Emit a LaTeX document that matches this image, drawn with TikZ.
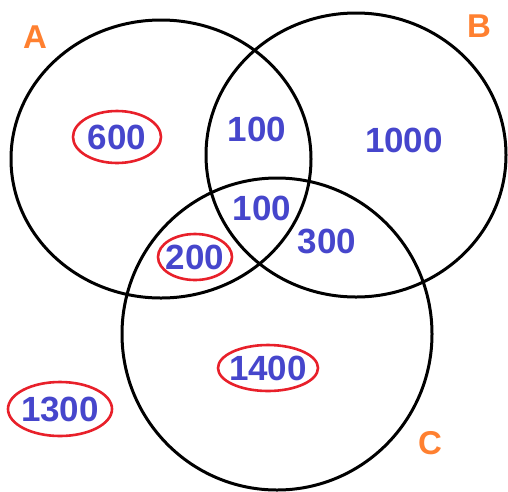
\documentclass[tikz,border=0pt]{standalone}
\usepackage{fontspec}
\setmainfont{Liberation Sans}
\usepackage{xcolor}
\usetikzlibrary{shapes.geometric, positioning}

\definecolor{setorange}{RGB}{255,128,48}
\definecolor{numblue}{RGB}{70,70,204}
\definecolor{ringred}{RGB}{232,32,42}

\tikzset{
    setname/.style={text=setorange, font=\fontsize{33}{33}\selectfont\bfseries},
    count/.style={text=numblue, font=\fontsize{35}{35}\selectfont\bfseries, inner sep=0pt},
    ringed/.style={count, ellipse, inner xsep=-4pt, draw=ringred, line width=2.6pt}
}

\begin{document}
\begin{tikzpicture}[x=1pt, y=-1pt]
    \useasboundingbox (0,0) rectangle (508,491);
    % Vẽ ba tập hợp
    \draw[line width=3pt] (161,159) ellipse [x radius=150, y radius=139];
    \draw[line width=3pt] (356,155) ellipse [x radius=150, y radius=142];
    \draw[line width=3pt] (277,334) ellipse [x radius=155, y radius=156];
    
    % Tên các tập
    \node[setname] (A) at (35,37) {A};
    \node[setname] (B) at (479,26) {B};
    \node[setname] (C) at (430,443) {C};
    
    % Số phần tử từng miền
    \node[ringed, minimum width=88, minimum height=52] (a) at (117,137) {600};
    \node[count] (ab) at (257,129) {100};
    \node[count] (b) at (404,140) {1000};
    \node[count] (abc) at (262,208) {100};
    \node[count] (bc) at (327,241) {300};
    \node[ringed, minimum width=74, minimum height=46] (ac) at (195,257) {200};
    \node[ringed, minimum width=100, minimum height=46] (c) at (268,368) {1400};
    \node[ringed, minimum width=104, minimum height=54] (out) at (60,409) {1300};
\end{tikzpicture}
\end{document}
